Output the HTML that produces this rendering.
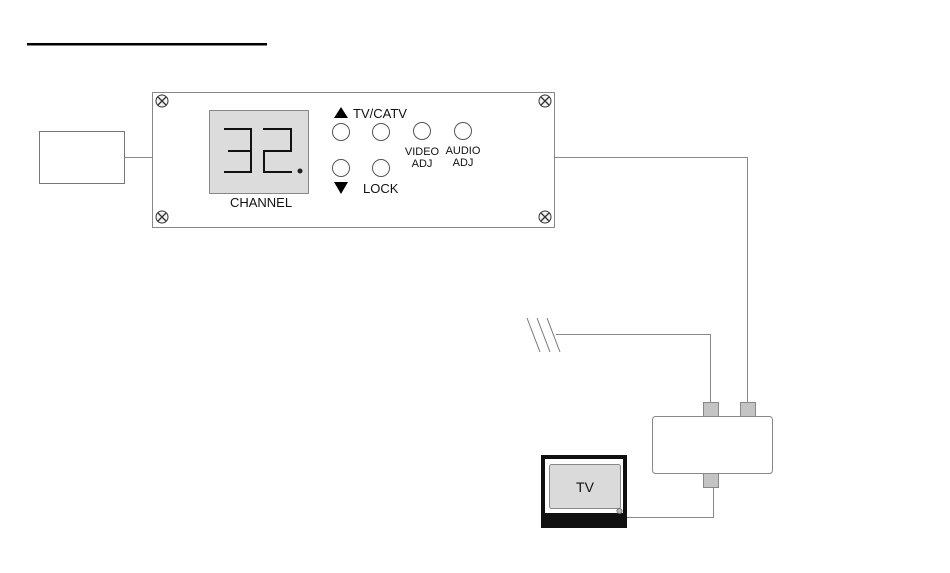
<!DOCTYPE html>
<html><head><style>body{margin:0;background:#fff}svg{display:block}</style></head><body>
<svg width="950" height="573" viewBox="0 0 950 573" xmlns="http://www.w3.org/2000/svg" font-family="Liberation Sans, sans-serif">
<rect x="27" y="43" width="240" height="2.5" fill="#000"/>
<rect x="39.5" y="131.5" width="85" height="52" fill="#fff" stroke="#777"/>
<line x1="124.5" y1="157.5" x2="152.5" y2="157.5" stroke="#888"/>
<rect x="152.5" y="92.5" width="402" height="135" fill="#fff" stroke="#888"/>
<g stroke="#333" stroke-width="1" fill="#f4f4f4">
<circle cx="162" cy="101" r="6"/><circle cx="545" cy="101" r="6"/><circle cx="162" cy="217" r="6"/><circle cx="545" cy="217" r="6"/>
</g>
<g stroke="#333" stroke-width="1.3">
<path d="M158 97l8 8M166 97l-8 8"/><path d="M541 97l8 8M549 97l-8 8"/>
<path d="M158 213l8 8M166 213l-8 8"/><path d="M541 213l8 8M549 213l-8 8"/>
</g>
<rect x="209.5" y="110.5" width="99" height="83" fill="#dcdcdc" stroke="#888"/>
<g stroke="#111" stroke-width="2" fill="none">
<path d="M224 129H251V172H224M228 151H251"/>
<path d="M263 129H291V151H264V172H292"/>
</g>
<circle cx="300" cy="171" r="2.5" fill="#222"/>
<text x="261" y="207" font-size="13" text-anchor="middle" fill="#111">CHANNEL</text>
<polygon points="334,118 348,118 341,107" fill="#000"/>
<text x="353" y="118" font-size="13" fill="#111">TV/CATV</text>
<g fill="#fff" stroke="#555">
<circle cx="341" cy="132" r="8.5"/><circle cx="381" cy="132" r="8.5"/><circle cx="422" cy="131" r="8.5"/><circle cx="463" cy="131" r="8.5"/>
<circle cx="341" cy="168" r="8.5"/><circle cx="381" cy="168" r="8.5"/>
</g>
<polygon points="334,182 348,182 341,194" fill="#000"/>
<text x="363" y="193" font-size="13" fill="#111">LOCK</text>
<g font-size="11" fill="#111" text-anchor="middle">
<text x="422" y="155">VIDEO</text><text x="422" y="167">ADJ</text>
<text x="463" y="154">AUDIO</text><text x="463" y="166">ADJ</text>
</g>
<g stroke="#888" fill="none">
<path d="M554.5 157.5H747.5V402"/>
<path d="M556 334.5H710.5V402"/>
<path d="M713.5 487V517.5H627"/>
</g>
<g stroke="#777">
<line x1="527" y1="318" x2="540" y2="352"/><line x1="537" y1="318" x2="550" y2="352"/><line x1="547" y1="318" x2="560" y2="352"/>
</g>
<rect x="652.5" y="416.5" width="120" height="57" rx="3" fill="#fff" stroke="#888"/>
<g fill="#c4c4c4" stroke="#888">
<rect x="703.5" y="402.5" width="15" height="14"/><rect x="740.5" y="402.5" width="15" height="14"/><rect x="703.5" y="473.5" width="15" height="14"/>
</g>
<rect x="541" y="455" width="86" height="73" fill="#111"/>
<rect x="545" y="459" width="78" height="54" fill="#fff"/>
<rect x="549.5" y="464.5" width="71" height="44" rx="2" fill="#dadada" stroke="#888"/>
<text x="585" y="492" font-size="14" text-anchor="middle" fill="#111">TV</text>
<circle cx="619.5" cy="511" r="2.5" fill="#bbb" stroke="#777"/>
</svg>
</body></html>
